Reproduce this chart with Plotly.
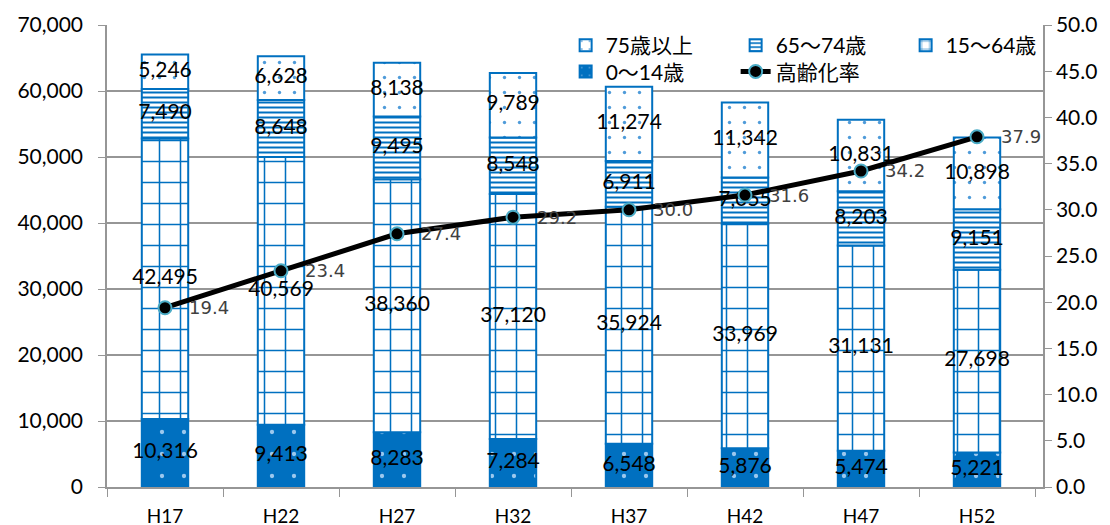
import plotly.graph_objects as go

categories = ["H17", "H22", "H27", "H32", "H37", "H42", "H47", "H52"]
age_0_14 = [10316, 9413, 8283, 7284, 6548, 5876, 5474, 5221]
age_15_64 = [42495, 40569, 38360, 37120, 35924, 33969, 31131, 27698]
age_65_74 = [7490, 8648, 9495, 8548, 6911, 7055, 8203, 9151]
age_75_over = [5246, 6628, 8138, 9789, 11274, 11342, 10831, 10898]
aging_rate = [19.4, 23.4, 27.4, 29.2, 30.0, 31.6, 34.2, 37.9]

BLUE = "#0070C0"
FONT = "Lato, Noto Sans CJK JP, sans-serif"

fig = go.Figure()

segments = [
    ("0～14歳", age_0_14, dict(shape=".", fgcolor="#9CC8EE", bgcolor=BLUE, size=22, solidity=0.03, fillmode="replace"), "legend2", 1),
    ("15～64歳", age_15_64, dict(shape="+", fgcolor=BLUE, bgcolor="white", size=21, solidity=0.14, fillmode="replace"), "legend", 3),
    ("65～74歳", age_65_74, dict(shape="-", fgcolor=BLUE, bgcolor="white", size=5, solidity=0.4, fillmode="replace"), "legend", 2),
    ("75歳以上", age_75_over, dict(shape=".", fgcolor="#4F9BD9", bgcolor="white", size=15, solidity=0.04, fillmode="replace"), "legend", 1),
]

base = [0] * len(categories)
label_x, label_y, label_t = [], [], []
for name, vals, pat, leg, rank in segments:
    fig.add_trace(go.Bar(
        x=categories, y=vals, base=base, name=name,
        width=0.4,
        marker=dict(color="white", pattern=pat, line=dict(color=BLUE, width=2)),
        legend=leg, legendrank=rank,
        hoverinfo="skip",
    ))
    for c, b, v in zip(categories, base, vals):
        label_x.append(c)
        label_y.append(b + v / 2)
        label_t.append(f"{v:,}")
    base = [b + v for b, v in zip(base, vals)]

fig.add_trace(go.Scatter(
    x=label_x, y=label_y, text=label_t, mode="text",
    textfont=dict(family=FONT, size=21, color="black"),
    showlegend=False, hoverinfo="skip",
))

fig.add_trace(go.Scatter(
    x=categories, y=aging_rate, name="高齢化率", yaxis="y2",
    mode="lines+markers",
    line=dict(color="black", width=5),
    marker=dict(color="black", size=13, line=dict(color="#4BACC6", width=2)),
    legend="legend2", legendrank=2,
    cliponaxis=False,
))

for c, v in zip(categories, aging_rate):
    fig.add_annotation(
        x=c, y=v, yref="y2", text=f"{v:.1f}", showarrow=False,
        xanchor="left", yanchor="middle", xshift=22,
        font=dict(family="DejaVu Sans, sans-serif", size=18, color="#404040"),
    )

legend_common = dict(
    orientation="h", xanchor="left", yanchor="top",
    entrywidth=125, entrywidthmode="pixels",
    font=dict(family=FONT, size=21, color="black"),
    bgcolor="rgba(255,255,255,0)", traceorder="normal",
)

fig.update_layout(
    width=1110, height=525,
    margin=dict(l=99, r=75, t=17, b=46, autoexpand=False),
    barmode="overlay",
    plot_bgcolor="white", paper_bgcolor="white",
    font=dict(family=FONT, size=21, color="black"),
    showlegend=True,
    legend=dict(x=0.49, y=1.0, **legend_common),
    legend2=dict(x=0.49, y=0.943, **legend_common),
    xaxis=dict(
        type="category", showline=True, linecolor="#969696", linewidth=1.5,
        ticks="outside", tickson="boundaries", ticklen=8, tickcolor="#969696",
        showgrid=False, ticklabelstandoff=11, automargin=False,
        tickfont=dict(family=FONT, size=19),
    ),
    yaxis=dict(
        range=[0, 70000], dtick=10000, tickformat=",d",
        showline=True, linecolor="#969696", linewidth=1.5,
        ticks="outside", ticklen=7, tickcolor="#969696",
        showgrid=True, gridcolor="#969696", gridwidth=1.5,
        zeroline=False, automargin=False, ticklabelstandoff=11,
        tickfont=dict(family=FONT, size=21),
    ),
    yaxis2=dict(
        range=[0, 50], dtick=5, tickformat=".1f", overlaying="y", side="right",
        showline=True, linecolor="#969696", linewidth=1.5,
        ticks="outside", ticklen=7, tickcolor="#969696",
        showgrid=False, zeroline=False, automargin=False,
        tickfont=dict(family=FONT, size=21),
    ),
)

fig.write_html("out.html")
